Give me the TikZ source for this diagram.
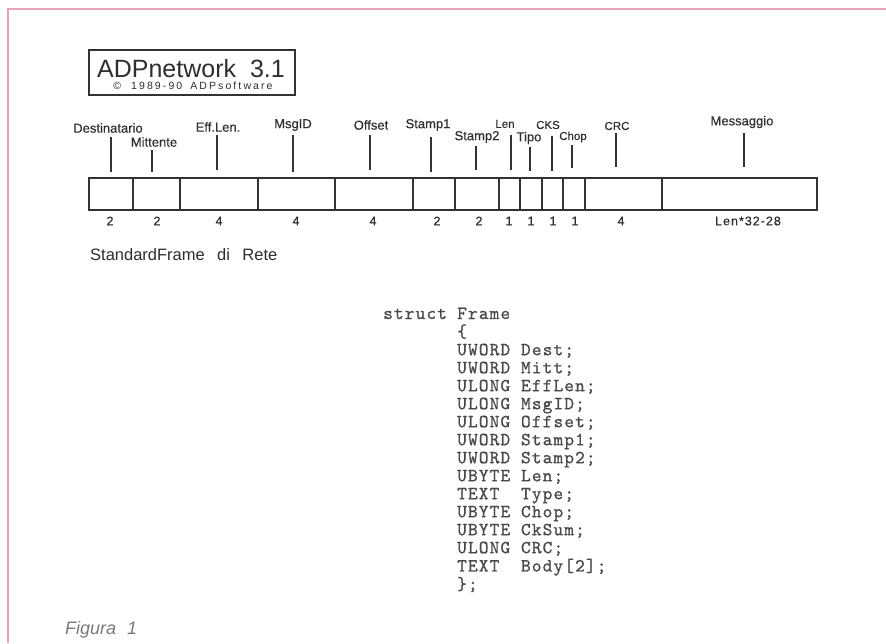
\documentclass[tikz,border=0pt]{standalone}
\usepackage{fontspec}
\setsansfont{Liberation Sans}
\newfontfamily\lblfont{Liberation Sans}[FakeBold=0.3]
\newfontfamily\numfont{Liberation Sans}[LetterSpace=8,FakeBold=0.3]
\newfontfamily\logofont{Liberation Sans}[LetterSpace=20]
\newfontfamily\figfont{Liberation Sans}
\newfontfamily\codefont{lmmono10-regular.otf}[FakeBold=0.9,LetterSpace=6]
\definecolor{pinkc}{HTML}{E7A3BC}
\definecolor{linec}{HTML}{333333}
\definecolor{textc}{HTML}{2E2E2E}
\definecolor{codec}{HTML}{4A4A4A}
\definecolor{figc}{HTML}{7A7A7A}
\begin{document}
\begin{tikzpicture}[x=1pt,y=-1pt,
  barline/.style={draw=linec, line width=1.4pt},
  tick/.style={draw=linec, line width=1.2pt},
  lbl/.style={font=\lblfont\fontsize{13}{15}\selectfont, text=textc, inner sep=0pt},
  lbls/.style={font=\lblfont\fontsize{11.5}{13}\selectfont, text=textc, inner sep=0pt},
  num/.style={font=\numfont\fontsize{12.5}{14}\selectfont, text=textc, inner sep=0pt},
  codeblock/.style={font=\codefont\fontsize{18.5}{18}\selectfont, text=codec, inner sep=0pt, anchor=base west},
]
\useasboundingbox (0,0) rectangle (886,643);
\fill[white] (0,0) rectangle (886,643);
% page frame
\draw[pinkc, line width=1.6pt] (8,643) -- (8,9) -- (886,9);

% logo
\node[draw=linec, line width=1.3pt, minimum width=206pt, minimum height=45pt, inner sep=0pt] (logo) at (192,72.5) {};
\node[font=\sffamily\fontsize{25}{28}\selectfont, text=textc, inner sep=0pt, anchor=base] (logotitle) at (191,77) {ADPnetwork\hspace{14pt}3.1};
\node[font=\logofont\fontsize{10.5}{12}\selectfont, text=textc, inner sep=0pt, anchor=base] (logosub) at (193,89) {©\hspace{10pt}1989-90\hspace{8pt}ADPsoftware};

% frame bar
\draw[barline] (89,178) rectangle (817,210);
\foreach \xx in {133,180,258,335,413,455,499,520,542,563,585,662}
  \draw[barline] (\xx,178) -- (\xx,210);

% field labels
\node[lbl] (lDest) at (108,128) {Destinatario};
\node[lbl] (lMitt) at (154,142) {Mittente};
\node[lbl] (lEff) at (218,127) {Eff.Len.};
\node[lbl] (lMsg) at (293,125) {MsgID};
\node[lbl] (lOff) at (371,125) {Offset};
\node[lbl] (lSt1) at (428,125) {Stamp1};
\node[lbl] (lSt2) at (477,137) {Stamp2};
\node[lbls] (lLen) at (505,124) {Len};
\node[lbl] (lTipo) at (529,138) {Tipo};
\node[lbls] (lCKS) at (548,125) {CKS};
\node[lbls] (lChop) at (573,137) {Chop};
\node[lbls] (lCRC) at (617,126) {CRC};
\node[lbl] (lMes) at (742,122) {Messaggio};

% ticks
\draw[tick] (111,137) -- (111,172);
\draw[tick] (152,150) -- (152,172);
\draw[tick] (217,135) -- (217,170);
\draw[tick] (293,135) -- (293,172);
\draw[tick] (370,135) -- (370,170);
\draw[tick] (431,137) -- (431,172);
\draw[tick] (476,146) -- (476,170);
\draw[tick] (511,135) -- (511,170);
\draw[tick] (530,147) -- (530,171);
\draw[tick] (552,136) -- (552,171);
\draw[tick] (572,145) -- (572,168);
\draw[tick] (616,133) -- (616,167);
\draw[tick] (744,133) -- (744,167);

% sizes
\node[num] (n1) at (110,221) {2};
\node[num] (n2) at (157,221) {2};
\node[num] (n3) at (219,221) {4};
\node[num] (n4) at (296,221) {4};
\node[num] (n5) at (373,221) {4};
\node[num] (n6) at (437,221) {2};
\node[num] (n7) at (479,221) {2};
\node[num] (n8) at (509,221) {1};
\node[num] (n9) at (531,221) {1};
\node[num] (n10) at (553,221) {1};
\node[num] (n11) at (575,221) {1};
\node[num] (n12) at (621,221) {4};
\node[num] (n13) at (748,221) {Len*32-28};

% caption
\node[font=\sffamily\fontsize{16.5}{18}\selectfont, text=textc, inner sep=0pt, anchor=west] (cap) at (90,255) {StandardFrame\hspace{0.75em}di\hspace{0.75em}Rete};

% struct listing
\node[codeblock] (kw) at (383,319) {struct};
\node[codeblock] (code) at (457,319) {\begin{tabular}[t]{@{}l@{}}
Frame\\
\{\\
UWORD Dest;\\
UWORD Mitt;\\
ULONG EffLen;\\
ULONG MsgID;\\
ULONG Offset;\\
UWORD Stamp1;\\
UWORD Stamp2;\\
UBYTE Len;\\
TEXT\ \ Type;\\
UBYTE Chop;\\
UBYTE CkSum;\\
ULONG CRC;\\
TEXT\ \ Body[2];\\
\};
\end{tabular}};

% figure label
\node[font=\figfont\itshape\fontsize{18}{20}\selectfont, text=figc, inner sep=0pt, anchor=west] (fig) at (65,630) {Figura\hspace{0.6em}1};
\end{tikzpicture}
\end{document}
